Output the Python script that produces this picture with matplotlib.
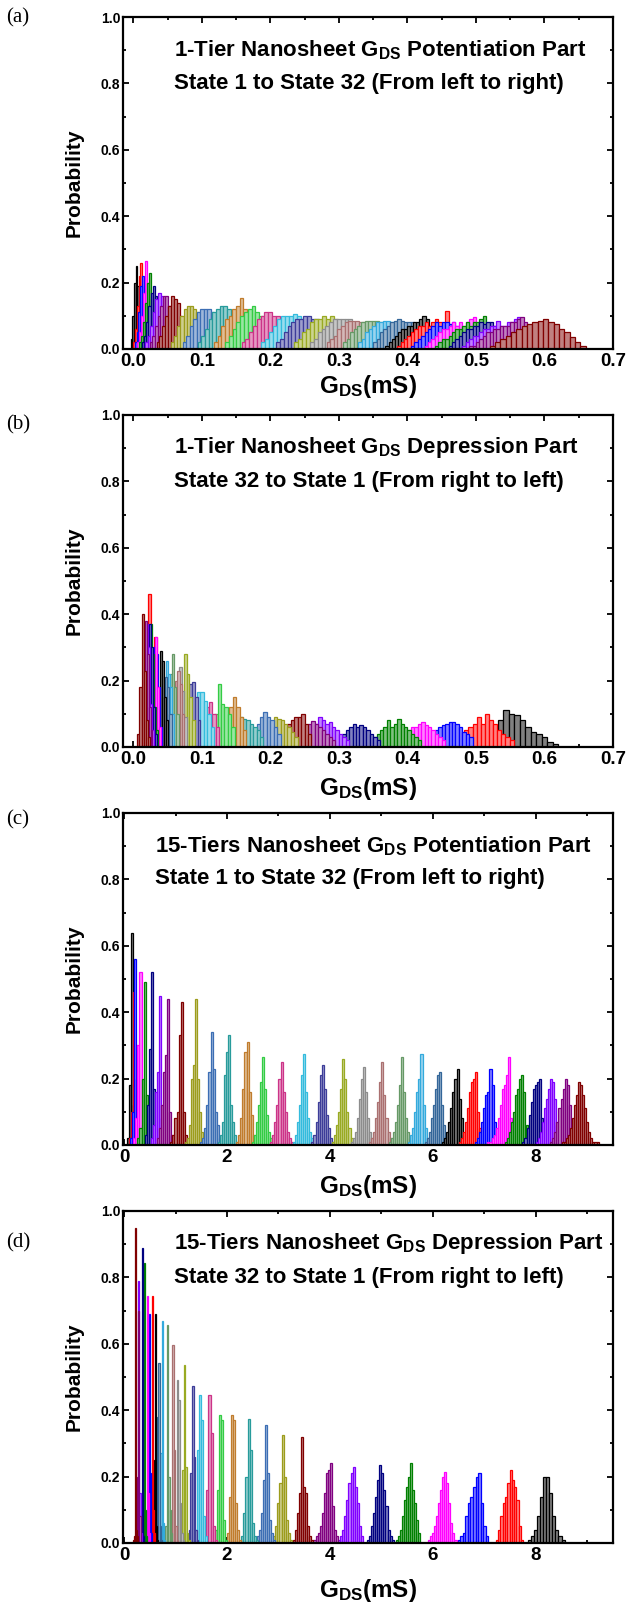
import matplotlib
matplotlib.use('Agg')
import matplotlib.pyplot as plt
from matplotlib.ticker import MultipleLocator, FormatStrFormatter
from matplotlib.colors import to_rgb

plt.rcParams['font.family'] = ['Liberation Sans', 'DejaVu Sans']
plt.rcParams['font.weight'] = 'bold'
plt.rcParams['mathtext.fontset'] = 'custom'
plt.rcParams['mathtext.bf'] = 'Liberation Sans:bold'
plt.rcParams['mathtext.rm'] = 'Liberation Sans:bold'
plt.rcParams['mathtext.it'] = 'Liberation Sans:bold'
plt.rcParams['mathtext.sf'] = 'Liberation Sans:bold'

COLORS = ['#000000', '#FF0000', '#0000FF', '#FF00FF', '#008000', '#000080',
          '#8000FF', '#800080', '#800000', '#9C9C1C', '#3C6EB4', '#279B9B',
          '#C07C2C', '#33CC44', '#CC3388', '#33BBDD', '#3D3D99', '#99AA22',
          '#8C8C8C', '#AA7070', '#669966', '#33AADD', '#336699']

# ---------------- (a) 1-Tier potentiation, state 1..32 ----------------
a_lo = [-0.004, -0.001, 0.002, 0.006, 0.009, 0.012, 0.017, 0.024, 0.034, 0.055,
        0.072, 0.094, 0.118, 0.134, 0.158, 0.186, 0.208, 0.234, 0.258, 0.282,
        0.306, 0.328, 0.350, 0.368, 0.385, 0.405, 0.425, 0.440, 0.460, 0.480,
        0.490, 0.520]
a_hi = [0.016, 0.022, 0.027, 0.031, 0.036, 0.045, 0.055, 0.066, 0.080, 0.110,
        0.134, 0.158, 0.182, 0.206, 0.236, 0.262, 0.288, 0.316, 0.342, 0.366,
        0.390, 0.410, 0.430, 0.440, 0.470, 0.485, 0.505, 0.520, 0.540, 0.570,
        0.580, 0.660]
a_h = [
    [0.03, 0.10, 0.20, 0.25, 0.19, 0.12, 0.07, 0.04],
    [0.02, 0.06, 0.13, 0.22, 0.26, 0.17, 0.09, 0.05],
    [0.02, 0.05, 0.11, 0.19, 0.22, 0.19, 0.12, 0.07, 0.03],
    [0.02, 0.05, 0.10, 0.17, 0.265, 0.20, 0.11, 0.06, 0.025],
    [0.02, 0.04, 0.08, 0.14, 0.20, 0.23, 0.15, 0.08, 0.04, 0.02],
    [0.02, 0.04, 0.08, 0.13, 0.17, 0.19, 0.16, 0.11, 0.06, 0.04],
    [0.02, 0.04, 0.07, 0.11, 0.15, 0.17, 0.16, 0.13, 0.09, 0.06],
    [0.02, 0.04, 0.07, 0.10, 0.13, 0.16, 0.16, 0.13, 0.10, 0.06, 0.03],
    [0.02, 0.04, 0.07, 0.10, 0.13, 0.16, 0.15, 0.14, 0.10, 0.06, 0.03],
    [0.02, 0.04, 0.07, 0.10, 0.12, 0.13, 0.13, 0.12, 0.11, 0.09, 0.05, 0.02],
    [0.02, 0.04, 0.07, 0.09, 0.11, 0.12, 0.12, 0.12, 0.11, 0.09, 0.07, 0.04],
    [0.02, 0.04, 0.06, 0.09, 0.11, 0.12, 0.13, 0.13, 0.12, 0.10, 0.05, 0.03],
    [0.02, 0.04, 0.07, 0.09, 0.10, 0.12, 0.13, 0.155, 0.12, 0.08, 0.05, 0.025],
    [0.02, 0.04, 0.06, 0.08, 0.10, 0.11, 0.12, 0.13, 0.11, 0.10, 0.07, 0.04, 0.02],
    [0.02, 0.03, 0.05, 0.07, 0.09, 0.10, 0.11, 0.11, 0.10, 0.10, 0.08, 0.07, 0.05, 0.02],
    [0.02, 0.03, 0.05, 0.07, 0.09, 0.10, 0.10, 0.10, 0.105, 0.10, 0.09, 0.08, 0.06],
    [0.02, 0.03, 0.05, 0.07, 0.08, 0.09, 0.09, 0.10, 0.10, 0.09, 0.09, 0.08, 0.06, 0.05],
    [0.02, 0.03, 0.05, 0.06, 0.08, 0.09, 0.09, 0.10, 0.09, 0.10, 0.09, 0.08, 0.07, 0.05],
    [0.02, 0.03, 0.05, 0.06, 0.07, 0.08, 0.09, 0.09, 0.09, 0.09, 0.09, 0.08, 0.07, 0.06, 0.03],
    [0.02, 0.03, 0.04, 0.06, 0.07, 0.08, 0.085, 0.085, 0.085, 0.08, 0.08, 0.08, 0.07, 0.06, 0.05, 0.03],
    [0.02, 0.03, 0.05, 0.06, 0.07, 0.08, 0.085, 0.085, 0.085, 0.085, 0.08, 0.08, 0.07, 0.06, 0.05, 0.03],
    [0.02, 0.03, 0.05, 0.06, 0.07, 0.08, 0.08, 0.085, 0.085, 0.08, 0.08, 0.08, 0.07, 0.06, 0.05, 0.03],
    [0.02, 0.03, 0.05, 0.06, 0.07, 0.08, 0.085, 0.09, 0.085, 0.08, 0.08, 0.08, 0.07, 0.06, 0.04, 0.03],
    [0.01, 0.02, 0.03, 0.04, 0.05, 0.06, 0.06, 0.07, 0.07, 0.08, 0.08, 0.09, 0.10, 0.09, 0.07, 0.04],
    [0.01, 0.02, 0.03, 0.04, 0.05, 0.06, 0.07, 0.07, 0.08, 0.07, 0.08, 0.09, 0.08, 0.07, 0.115, 0.06, 0.03],
    [0.01, 0.02, 0.03, 0.04, 0.05, 0.06, 0.07, 0.08, 0.07, 0.08, 0.08, 0.075, 0.08, 0.07, 0.06, 0.04],
    [0.01, 0.02, 0.03, 0.04, 0.05, 0.06, 0.06, 0.07, 0.08, 0.07, 0.08, 0.07, 0.08, 0.09, 0.095, 0.05],
    [0.01, 0.02, 0.03, 0.03, 0.04, 0.05, 0.06, 0.06, 0.07, 0.08, 0.07, 0.08, 0.08, 0.09, 0.10, 0.07],
    [0.01, 0.02, 0.03, 0.04, 0.05, 0.06, 0.06, 0.07, 0.07, 0.08, 0.075, 0.08, 0.08, 0.07, 0.05, 0.03],
    [0.01, 0.02, 0.03, 0.04, 0.04, 0.05, 0.06, 0.06, 0.07, 0.07, 0.085, 0.07, 0.07, 0.08, 0.08, 0.09, 0.095, 0.04],
    [0.01, 0.01, 0.02, 0.03, 0.04, 0.05, 0.05, 0.06, 0.06, 0.07, 0.07, 0.07, 0.08, 0.08, 0.09, 0.095, 0.08, 0.05],
    [0.01, 0.02, 0.03, 0.04, 0.05, 0.06, 0.07, 0.075, 0.08, 0.085, 0.09, 0.08, 0.075, 0.06, 0.05, 0.035, 0.02, 0.01],
]

# ---------------- (b) 1-Tier depression, state 32 (right) .. state 1 (left) ----------------
b_lo = [0.500, 0.465, 0.430, 0.385, 0.345, 0.300, 0.255, 0.235, 0.210, 0.195,
        0.175, 0.150, 0.135, 0.118, 0.100, 0.088, 0.078, 0.070, 0.060, 0.058,
        0.050, 0.044, 0.040, 0.036, 0.014, 0.028, 0.026, 0.022, 0.020, 0.016,
        0.014, 0.006]
b_hi = [0.620, 0.555, 0.495, 0.455, 0.420, 0.360, 0.315, 0.295, 0.260, 0.240,
        0.215, 0.190, 0.165, 0.148, 0.125, 0.118, 0.098, 0.090, 0.078, 0.074,
        0.066, 0.060, 0.056, 0.050, 0.038, 0.042, 0.040, 0.036, 0.034, 0.030,
        0.028, 0.024]
b_h = [
    [0.01, 0.02, 0.04, 0.06, 0.08, 0.11, 0.10, 0.095, 0.08, 0.06, 0.045, 0.04, 0.03, 0.015, 0.01],
    [0.02, 0.03, 0.04, 0.05, 0.06, 0.07, 0.09, 0.07, 0.10, 0.08, 0.07, 0.05, 0.04, 0.03, 0.02],
    [0.01, 0.03, 0.05, 0.06, 0.065, 0.07, 0.075, 0.075, 0.07, 0.06, 0.045, 0.04, 0.03],
    [0.01, 0.02, 0.04, 0.05, 0.06, 0.06, 0.07, 0.075, 0.065, 0.06, 0.05, 0.04, 0.03, 0.02],
    [0.02, 0.03, 0.04, 0.05, 0.06, 0.08, 0.06, 0.07, 0.085, 0.07, 0.06, 0.05, 0.04, 0.03, 0.02],
    [0.02, 0.04, 0.05, 0.06, 0.07, 0.06, 0.065, 0.06, 0.05, 0.04, 0.03, 0.02],
    [0.03, 0.05, 0.07, 0.09, 0.08, 0.07, 0.075, 0.06, 0.05, 0.04, 0.03, 0.02],
    [0.02, 0.04, 0.05, 0.06, 0.07, 0.077, 0.07, 0.06, 0.05, 0.04, 0.03, 0.02],
    [0.02, 0.04, 0.06, 0.07, 0.08, 0.09, 0.09, 0.10, 0.07, 0.04],
    [0.04, 0.07, 0.09, 0.085, 0.08, 0.07, 0.06, 0.045, 0.03],
    [0.04, 0.07, 0.09, 0.105, 0.09, 0.08, 0.06, 0.04],
    [0.06, 0.09, 0.085, 0.08, 0.07, 0.06, 0.05, 0.03],
    [0.09, 0.12, 0.15, 0.12, 0.09, 0.05],
    [0.10, 0.19, 0.13, 0.12, 0.10, 0.06],
    [0.08, 0.12, 0.135, 0.10, 0.06],
    [0.10, 0.165, 0.165, 0.14, 0.10, 0.06],
    [0.12, 0.19, 0.195, 0.15, 0.08],
    [0.16, 0.28, 0.22, 0.15, 0.08],
    [0.14, 0.20, 0.24, 0.17, 0.09],
    [0.12, 0.20, 0.23, 0.19, 0.10],
    [0.12, 0.22, 0.28, 0.18, 0.10],
    [0.14, 0.26, 0.22, 0.18, 0.10],
    [0.12, 0.18, 0.21, 0.18, 0.10],
    [0.14, 0.29, 0.26, 0.15, 0.08],
    [0.05, 0.12, 0.46, 0.22, 0.33, 0.12],
    [0.12, 0.30, 0.28, 0.18, 0.06],
    [0.12, 0.26, 0.33, 0.18, 0.06],
    [0.14, 0.37, 0.28, 0.12, 0.05],
    [0.13, 0.37, 0.30, 0.12, 0.04],
    [0.12, 0.37, 0.30, 0.13, 0.05],
    [0.13, 0.38, 0.28, 0.12, 0.05],
    [0.04, 0.18, 0.40, 0.23, 0.08, 0.03],
]

# ---------------- (c) 15-Tiers potentiation, state 1..32 ----------------
c_lo = [0.06, 0.10, 0.12, 0.18, 0.26, 0.40, 0.52, 0.64, 0.90, 1.18,
        1.48, 1.82, 2.18, 2.48, 2.84, 3.28, 3.64, 4.04, 4.40, 4.76,
        5.14, 5.52, 5.84, 6.18, 6.50, 6.82, 7.06, 7.40, 7.74, 8.00,
        8.28, 8.50]
c_hi = [0.30, 0.34, 0.40, 0.46, 0.58, 0.68, 0.84, 0.96, 1.26, 1.58,
        1.92, 2.22, 2.58, 2.92, 3.28, 3.72, 4.08, 4.48, 4.88, 5.24,
        5.62, 5.96, 6.32, 6.66, 6.98, 7.30, 7.58, 7.88, 8.18, 8.48,
        8.76, 9.22]
c_h = [
    [0.02, 0.18, 0.64, 0.12, 0.03, 0.01],
    [0.02, 0.10, 0.46, 0.30, 0.10, 0.02],
    [0.02, 0.10, 0.56, 0.20, 0.08, 0.03, 0.01],
    [0.02, 0.08, 0.30, 0.52, 0.06, 0.02, 0.01],
    [0.02, 0.05, 0.20, 0.49, 0.15, 0.06, 0.02, 0.01],
    [0.03, 0.12, 0.29, 0.52, 0.17, 0.05, 0.02],
    [0.02, 0.06, 0.16, 0.22, 0.45, 0.08, 0.03, 0.01],
    [0.02, 0.05, 0.12, 0.22, 0.27, 0.44, 0.10, 0.03],
    [0.01, 0.03, 0.08, 0.10, 0.33, 0.43, 0.10, 0.03, 0.01],
    [0.01, 0.02, 0.06, 0.20, 0.24, 0.44, 0.20, 0.10, 0.04, 0.02],
    [0.01, 0.02, 0.05, 0.12, 0.22, 0.34, 0.23, 0.10, 0.06, 0.02, 0.01],
    [0.01, 0.03, 0.07, 0.21, 0.28, 0.33, 0.12, 0.07, 0.03, 0.01],
    [0.01, 0.03, 0.08, 0.17, 0.28, 0.31, 0.16, 0.09, 0.03, 0.01],
    [0.01, 0.03, 0.07, 0.12, 0.19, 0.265, 0.17, 0.09, 0.04, 0.02, 0.01],
    [0.01, 0.03, 0.07, 0.12, 0.20, 0.25, 0.16, 0.10, 0.04, 0.02, 0.01],
    [0.01, 0.03, 0.07, 0.12, 0.21, 0.275, 0.16, 0.08, 0.04, 0.02, 0.01],
    [0.01, 0.03, 0.07, 0.13, 0.21, 0.24, 0.17, 0.09, 0.05, 0.02, 0.01],
    [0.01, 0.03, 0.06, 0.10, 0.17, 0.26, 0.20, 0.10, 0.05, 0.02, 0.01],
    [0.01, 0.02, 0.04, 0.08, 0.14, 0.20, 0.235, 0.16, 0.08, 0.04, 0.02, 0.01],
    [0.01, 0.02, 0.04, 0.08, 0.13, 0.19, 0.25, 0.15, 0.08, 0.04, 0.02, 0.01],
    [0.01, 0.02, 0.04, 0.07, 0.12, 0.18, 0.265, 0.16, 0.08, 0.04, 0.02, 0.01],
    [0.01, 0.03, 0.05, 0.10, 0.16, 0.20, 0.275, 0.12, 0.05, 0.02, 0.01],
    [0.01, 0.02, 0.04, 0.08, 0.12, 0.17, 0.21, 0.22, 0.12, 0.06, 0.03, 0.01],
    [0.01, 0.02, 0.04, 0.07, 0.11, 0.16, 0.20, 0.23, 0.14, 0.08, 0.03, 0.01],
    [0.01, 0.02, 0.04, 0.07, 0.11, 0.16, 0.19, 0.20, 0.22, 0.10, 0.05, 0.02],
    [0.01, 0.02, 0.04, 0.07, 0.11, 0.15, 0.16, 0.23, 0.18, 0.07, 0.03, 0.01],
    [0.01, 0.01, 0.02, 0.03, 0.05, 0.08, 0.12, 0.17, 0.18, 0.21, 0.265, 0.08, 0.02],
    [0.01, 0.02, 0.04, 0.07, 0.10, 0.15, 0.17, 0.20, 0.21, 0.16, 0.06, 0.02],
    [0.01, 0.02, 0.05, 0.09, 0.13, 0.17, 0.18, 0.19, 0.20, 0.08, 0.03],
    [0.01, 0.02, 0.04, 0.07, 0.11, 0.14, 0.17, 0.20, 0.19, 0.14, 0.06, 0.02],
    [0.01, 0.02, 0.04, 0.07, 0.11, 0.14, 0.17, 0.20, 0.18, 0.12, 0.05, 0.02],
    [0.01, 0.01, 0.02, 0.03, 0.05, 0.08, 0.12, 0.15, 0.19, 0.18, 0.15, 0.11, 0.07, 0.04, 0.02, 0.01, 0.01, 0.01],
]

# ---------------- (d) 15-Tiers depression, state 32 (right) .. state 1 (left) ----------------
d_lo = [7.84, 7.22, 6.48, 5.90, 5.28, 4.72, 4.16, 3.68, 3.28, 2.90,
        2.58, 2.28, 2.00, 1.76, 1.56, 1.38, 1.26, 1.10, 0.99, 0.91,
        0.80, 0.68, 0.62, 0.56, 0.50, 0.44, 0.40, 0.37, 0.30, 0.26,
        0.24, 0.18]
d_hi = [8.56, 7.76, 7.08, 6.46, 5.76, 5.24, 4.64, 4.16, 3.68, 3.26,
        2.94, 2.60, 2.28, 2.00, 1.80, 1.62, 1.44, 1.28, 1.17, 1.05,
        0.94, 0.80, 0.74, 0.66, 0.60, 0.54, 0.50, 0.45, 0.38, 0.34,
        0.32, 0.28]
d_h = [
    [0.01, 0.02, 0.04, 0.08, 0.14, 0.20, 0.20, 0.15, 0.08, 0.04, 0.02, 0.01],
    [0.01, 0.04, 0.08, 0.12, 0.14, 0.18, 0.22, 0.19, 0.17, 0.13, 0.05, 0.01],
    [0.01, 0.02, 0.03, 0.08, 0.12, 0.14, 0.17, 0.20, 0.21, 0.12, 0.05, 0.02],
    [0.01, 0.02, 0.03, 0.05, 0.08, 0.12, 0.16, 0.20, 0.215, 0.18, 0.12, 0.06, 0.03, 0.01],
    [0.01, 0.02, 0.04, 0.08, 0.13, 0.17, 0.20, 0.24, 0.16, 0.12, 0.07, 0.03],
    [0.01, 0.02, 0.05, 0.09, 0.14, 0.19, 0.235, 0.21, 0.16, 0.11, 0.04, 0.02, 0.01],
    [0.01, 0.02, 0.04, 0.08, 0.13, 0.18, 0.21, 0.229, 0.17, 0.12, 0.05, 0.02],
    [0.01, 0.02, 0.03, 0.05, 0.09, 0.15, 0.21, 0.22, 0.24, 0.11, 0.04, 0.02],
    [0.01, 0.04, 0.09, 0.15, 0.32, 0.17, 0.15, 0.05, 0.02, 0.01],
    [0.02, 0.05, 0.12, 0.18, 0.326, 0.20, 0.07, 0.03, 0.01],
    [0.02, 0.04, 0.09, 0.19, 0.354, 0.21, 0.07, 0.03, 0.01],
    [0.02, 0.09, 0.20, 0.375, 0.28, 0.06, 0.02, 0.01],
    [0.03, 0.14, 0.387, 0.37, 0.12, 0.04, 0.01],
    [0.04, 0.16, 0.387, 0.37, 0.07, 0.01],
    [0.06, 0.16, 0.447, 0.33, 0.05, 0.01],
    [0.04, 0.28, 0.447, 0.37, 0.08, 0.02],
    [0.04, 0.21, 0.474, 0.26, 0.04, 0.01],
    [0.06, 0.22, 0.535, 0.23, 0.03, 0.01],
    [0.04, 0.49, 0.43, 0.12, 0.03, 0.01],
    [0.07, 0.595, 0.28, 0.05, 0.01],
    [0.05, 0.656, 0.20, 0.10, 0.03],
    [0.05, 0.27, 0.668, 0.06, 0.01],
    [0.05, 0.38, 0.543, 0.05, 0.01],
    [0.05, 0.25, 0.69, 0.05, 0.01],
    [0.02, 0.10, 0.743, 0.10, 0.03],
    [0.02, 0.05, 0.69, 0.21, 0.03],
    [0.02, 0.05, 0.743, 0.15, 0.03],
    [0.03, 0.843, 0.10, 0.02],
    [0.03, 0.07, 0.89, 0.02],
    [0.03, 0.79, 0.15, 0.03],
    [0.02, 0.20, 0.70, 0.08],
    [0.01, 0.02, 0.95, 0.04, 0.02],
]

titles = [
    ('1-Tier Nanosheet $\\mathbf{G_{DS}}$ Potentiation Part', 'State 1 to State 32 (From left to right)'),
    ('1-Tier Nanosheet $\\mathbf{G_{DS}}$ Depression Part', 'State 32 to State 1 (From right to left)'),
    ('15-Tiers Nanosheet $\\mathbf{G_{DS}}$ Potentiation Part', 'State 1 to State 32 (From left to right)'),
    ('15-Tiers Nanosheet $\\mathbf{G_{DS}}$ Depression Part', 'State 32 to State 1 (From right to left)'),
]
panel_labels = ['(a)', '(b)', '(c)', '(d)']

W, H = 637, 1607
fig = plt.figure(figsize=(W / 100, H / 100), dpi=100)

ax_left, ax_w, ax_h = 123, 490, 332
ax_tops = [17, 415, 813, 1211]
title_x = [174, 174, 155, 174]
label_y = [18, 425, 820, 1243]
xlabel_off = [38, 42, 42, 47]


def tint(c, f=0.45):
    r, g, b = to_rgb(c)
    return (1 - f * (1 - r), 1 - f * (1 - g), 1 - f * (1 - b))


def draw(ax, lows, highs, heights):
    for i, (lo, hi, h) in enumerate(zip(lows, highs, heights)):
        n = len(h)
        w = (hi - lo) / n
        edges = [lo + k * w for k in range(n)]
        col = COLORS[i % len(COLORS)]
        ax.bar(edges, h, width=w, align='edge', facecolor=tint(col, 0.5),
               edgecolor=col, linewidth=0.9, zorder=2)


datasets = [(a_lo, a_hi, a_h), (b_lo, b_hi, b_h), (c_lo, c_hi, c_h), (d_lo, d_hi, d_h)]

for k in range(4):
    top = ax_tops[k]
    ax = fig.add_axes([ax_left / W, 1 - (top + ax_h) / H, ax_w / W, ax_h / H])
    draw(ax, *datasets[k])
    ax.set_ylim(0, 1.0)
    if k < 2:
        ax.set_xlim(-0.015, 0.7)
        ax.xaxis.set_major_locator(MultipleLocator(0.1))
        ax.xaxis.set_minor_locator(MultipleLocator(0.05))
        ax.xaxis.set_major_formatter(FormatStrFormatter('%.1f'))
    else:
        ax.set_xlim(-0.02, 9.5)
        ax.xaxis.set_major_locator(MultipleLocator(2))
        ax.xaxis.set_minor_locator(MultipleLocator(1))
    ax.yaxis.set_major_locator(MultipleLocator(0.2))
    ax.yaxis.set_minor_locator(MultipleLocator(0.1))
    ax.yaxis.set_major_formatter(FormatStrFormatter('%.1f'))
    ax.tick_params(which='both', direction='in', top=True, right=True, width=1.3)
    ax.tick_params(which='major', length=4)
    ax.tick_params(which='minor', length=2.5)
    ax.tick_params(axis='x', labelsize=13.5, pad=3)
    ax.tick_params(axis='y', labelsize=10, pad=2)
    for lab in ax.get_xticklabels() + ax.get_yticklabels():
        lab.set_fontweight('bold')
    for sp in ax.spines.values():
        sp.set_linewidth(1.6)
    ax.set_ylabel('Probability', fontsize=15, fontweight='bold', va='center')
    ax.yaxis.set_label_coords((74 - ax_left) / ax_w, 0.5)
    ax.set_xlabel('$\\mathbf{G_{DS}(mS)}$', fontsize=17.5, va='center')
    ax.xaxis.set_label_coords(0.5, -xlabel_off[k] / ax_h)
    t1, t2 = titles[k]
    tx = (title_x[k] - ax_left) / ax_w
    ax.text(tx, 1 - 33 / ax_h, t1, transform=ax.transAxes, fontsize=16,
            fontweight='bold', va='center', ha='left')
    ax.text(tx, 1 - 66 / ax_h, t2, transform=ax.transAxes, fontsize=16,
            fontweight='bold', va='center', ha='left')
    fig.text(6 / W, 1 - label_y[k] / H, panel_labels[k], fontsize=15,
             family='Liberation Serif', fontweight='normal', va='center', ha='left')

fig.savefig('out.png', dpi=100)
